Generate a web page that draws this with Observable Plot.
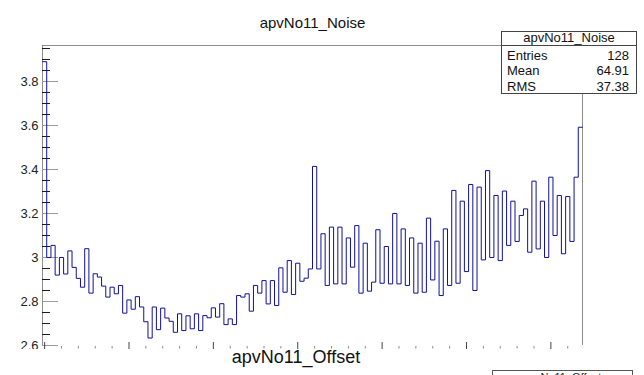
<!DOCTYPE html>
<html>
<head>
<meta charset="utf-8">
<script src="https://cdn.jsdelivr.net/npm/d3@7"></script>
<script src="https://cdn.jsdelivr.net/npm/@observablehq/plot@0.6"></script>
<style>
  html, body { margin: 0; padding: 0; background: #fff; }
  #chart svg { display: block; }
</style>
</head>
<body>
<div id="chart"></div>
<script>
// Noise per channel of APV No. 11 (128 channels, one bin each)
const histTitle = "apvNo11_Noise";
const nextPadTitle = "apvNo11_Offset";
const noise = [
  3.89, 3.00, 3.055, 2.92, 3.00, 2.925, 3.03, 2.955, 2.905, 2.865,
  3.04, 2.838, 2.926, 2.911, 2.87, 2.82, 2.865, 2.835, 2.873, 2.747,
  2.807, 2.765, 2.822, 2.775, 2.708, 2.634, 2.775, 2.672, 2.77, 2.725,
  2.71, 2.66, 2.744, 2.668, 2.735, 2.676, 2.744, 2.668, 2.736, 2.726,
  2.771, 2.729, 2.79, 2.695, 2.721, 2.695, 2.827, 2.82, 2.835, 2.756,
  2.873, 2.838, 2.895, 2.789, 2.895, 2.782, 2.953, 2.842, 2.986, 2.832,
  2.974, 2.892, 2.906, 2.948, 3.414, 2.948, 3.108, 2.873, 3.138, 2.88,
  3.138, 2.88, 3.089, 2.956, 3.145, 2.838, 3.065, 2.847, 2.888, 3.126,
  2.883, 3.05, 2.88, 3.2, 2.88, 3.13, 2.873, 3.089, 2.838, 3.065,
  2.842, 3.179, 2.898, 3.074, 2.827, 3.13, 2.873, 3.305, 2.883, 3.256,
  2.936, 3.332, 2.85, 3.32, 2.989, 3.395, 3.0, 3.282, 2.986, 3.302,
  3.055, 3.256, 3.073, 3.191, 3.221, 3.024, 3.347, 3.039, 3.256, 3.0,
  3.365, 3.1, 3.282, 3.017, 3.277, 3.073, 3.365, 3.592
];

// statistics box
const statLabels = ["Entries", "Mean", "RMS"];
const statValues = ["128", "64.91", "37.38"];

// axis ticks
const xDomain = [-0.5, 127.5];
const yDomain = [2.6, 3.9636];
const yMajor = [2.6, 2.8, 3, 3.2, 3.4, 3.6, 3.8];
const yMinor = [2.65, 2.7, 2.75, 2.85, 2.9, 2.95, 3.05, 3.1, 3.15, 3.25, 3.3, 3.35,
                3.45, 3.5, 3.55, 3.65, 3.7, 3.75, 3.85, 3.9, 3.95];
const xMajor = [0, 20, 40, 60, 80, 100, 120];
const xMinor = [4, 8, 12, 16, 24, 28, 32, 36, 44, 48, 52, 56, 64, 68, 72, 76,
                84, 88, 92, 96, 104, 108, 112, 116, 124];

// step outline: left edge of every bin, plus the closing right edge
const steps = noise.map((v, i) => ({edge: i - 0.5, value: v}));
steps.push({edge: 127.5, value: noise[noise.length - 1]});

const W = 644, H = 375;
const mL = 42, mR = 62, mT = 45, mB = 30;
const frameW = W - mL - mR, frameH = H - mT - mB;

const chart = Plot.plot({
  width: W,
  height: H,
  marginLeft: mL,
  marginRight: mR,
  marginTop: mT,
  marginBottom: mB,
  style: {fontFamily: "'Liberation Sans', Arial, sans-serif", fontSize: "13px", color: "#222", background: "#fff"},
  x: {domain: xDomain, axis: null},
  y: {domain: yDomain, axis: null},
  marks: [
    // frame (top, left, right)
    Plot.ruleY([yDomain[1]], {stroke: "#8c8c8c", strokeWidth: 1}),
    Plot.ruleX(xDomain, {stroke: "#8c8c8c", strokeWidth: 1}),
    // y ticks, drawn inward from the left edge
    Plot.tickY(yMajor, {y: d => d, stroke: "#9a9a9a", insetRight: frameW - 16}),
    Plot.tickY(yMinor, {y: d => d, stroke: "#1a1a1a", insetRight: frameW - 8}),
    // x ticks along the bottom
    Plot.tickX(xMajor, {x: d => d, stroke: "#444", insetTop: frameH - 3, insetBottom: -5}),
    Plot.tickX(xMinor, {x: d => d, stroke: "#888", insetTop: frameH + 1, insetBottom: -3.5}),
    Plot.axisY({ticks: yMajor, tickSize: 0, tickPadding: 4, label: null, tickFormat: d => String(d), fontSize: 13, fill: "#222"}),
    // histogram outline
    Plot.line(steps, {x: "edge", y: "value", curve: "step-after", stroke: "#10109c", strokeWidth: 1}),
    // title
    Plot.text([histTitle], {frameAnchor: "top", dy: -28, fontSize: 15, fill: "#111"})
  ]
});

document.getElementById("chart").appendChild(chart);

const svg = d3.select(chart);

// lower pad begins here and hides the rest of this pad
svg.append("rect")
  .attr("x", 0).attr("y", 349).attr("width", W).attr("height", H - 349)
  .attr("fill", "#fff");

svg.append("text")
  .attr("x", 296).attr("y", 363)
  .attr("text-anchor", "middle")
  .attr("font-size", 18)
  .attr("fill", "#111")
  .text(nextPadTitle);

// statistics box of the lower pad (its upper edge shows at the bottom)
const lower = svg.append("g");
lower.append("rect")
  .attr("x", 492.5).attr("y", 370.5).attr("width", 140).attr("height", 20)
  .attr("fill", "#fff").attr("stroke", "#555");
lower.append("text")
  .attr("x", 562).attr("y", 381)
  .attr("text-anchor", "middle").attr("font-size", 11).attr("fill", "#222")
  .text(nextPadTitle);

// statistics box
const bx = 501.5, by = 31.5, bw = 135, bh = 62;
const box = svg.append("g").attr("font-size", 13).attr("fill", "#111");
box.append("rect")
  .attr("x", bx).attr("y", by).attr("width", bw).attr("height", bh)
  .attr("fill", "#fff").attr("stroke", "#444").attr("stroke-width", 1);
box.append("line")
  .attr("x1", bx).attr("x2", bx + bw).attr("y1", 45.5).attr("y2", 45.5)
  .attr("stroke", "#444");
box.append("text")
  .attr("x", bx + bw / 2).attr("y", 42)
  .attr("text-anchor", "middle")
  .text(histTitle);
statLabels.forEach((label, i) => {
  const y = 60 + i * 15.3;
  box.append("text").attr("x", 507).attr("y", y).attr("text-anchor", "start").text(label);
  box.append("text").attr("x", 629).attr("y", y).attr("text-anchor", "end").text(statValues[i]);
});
</script>
</body>
</html>
